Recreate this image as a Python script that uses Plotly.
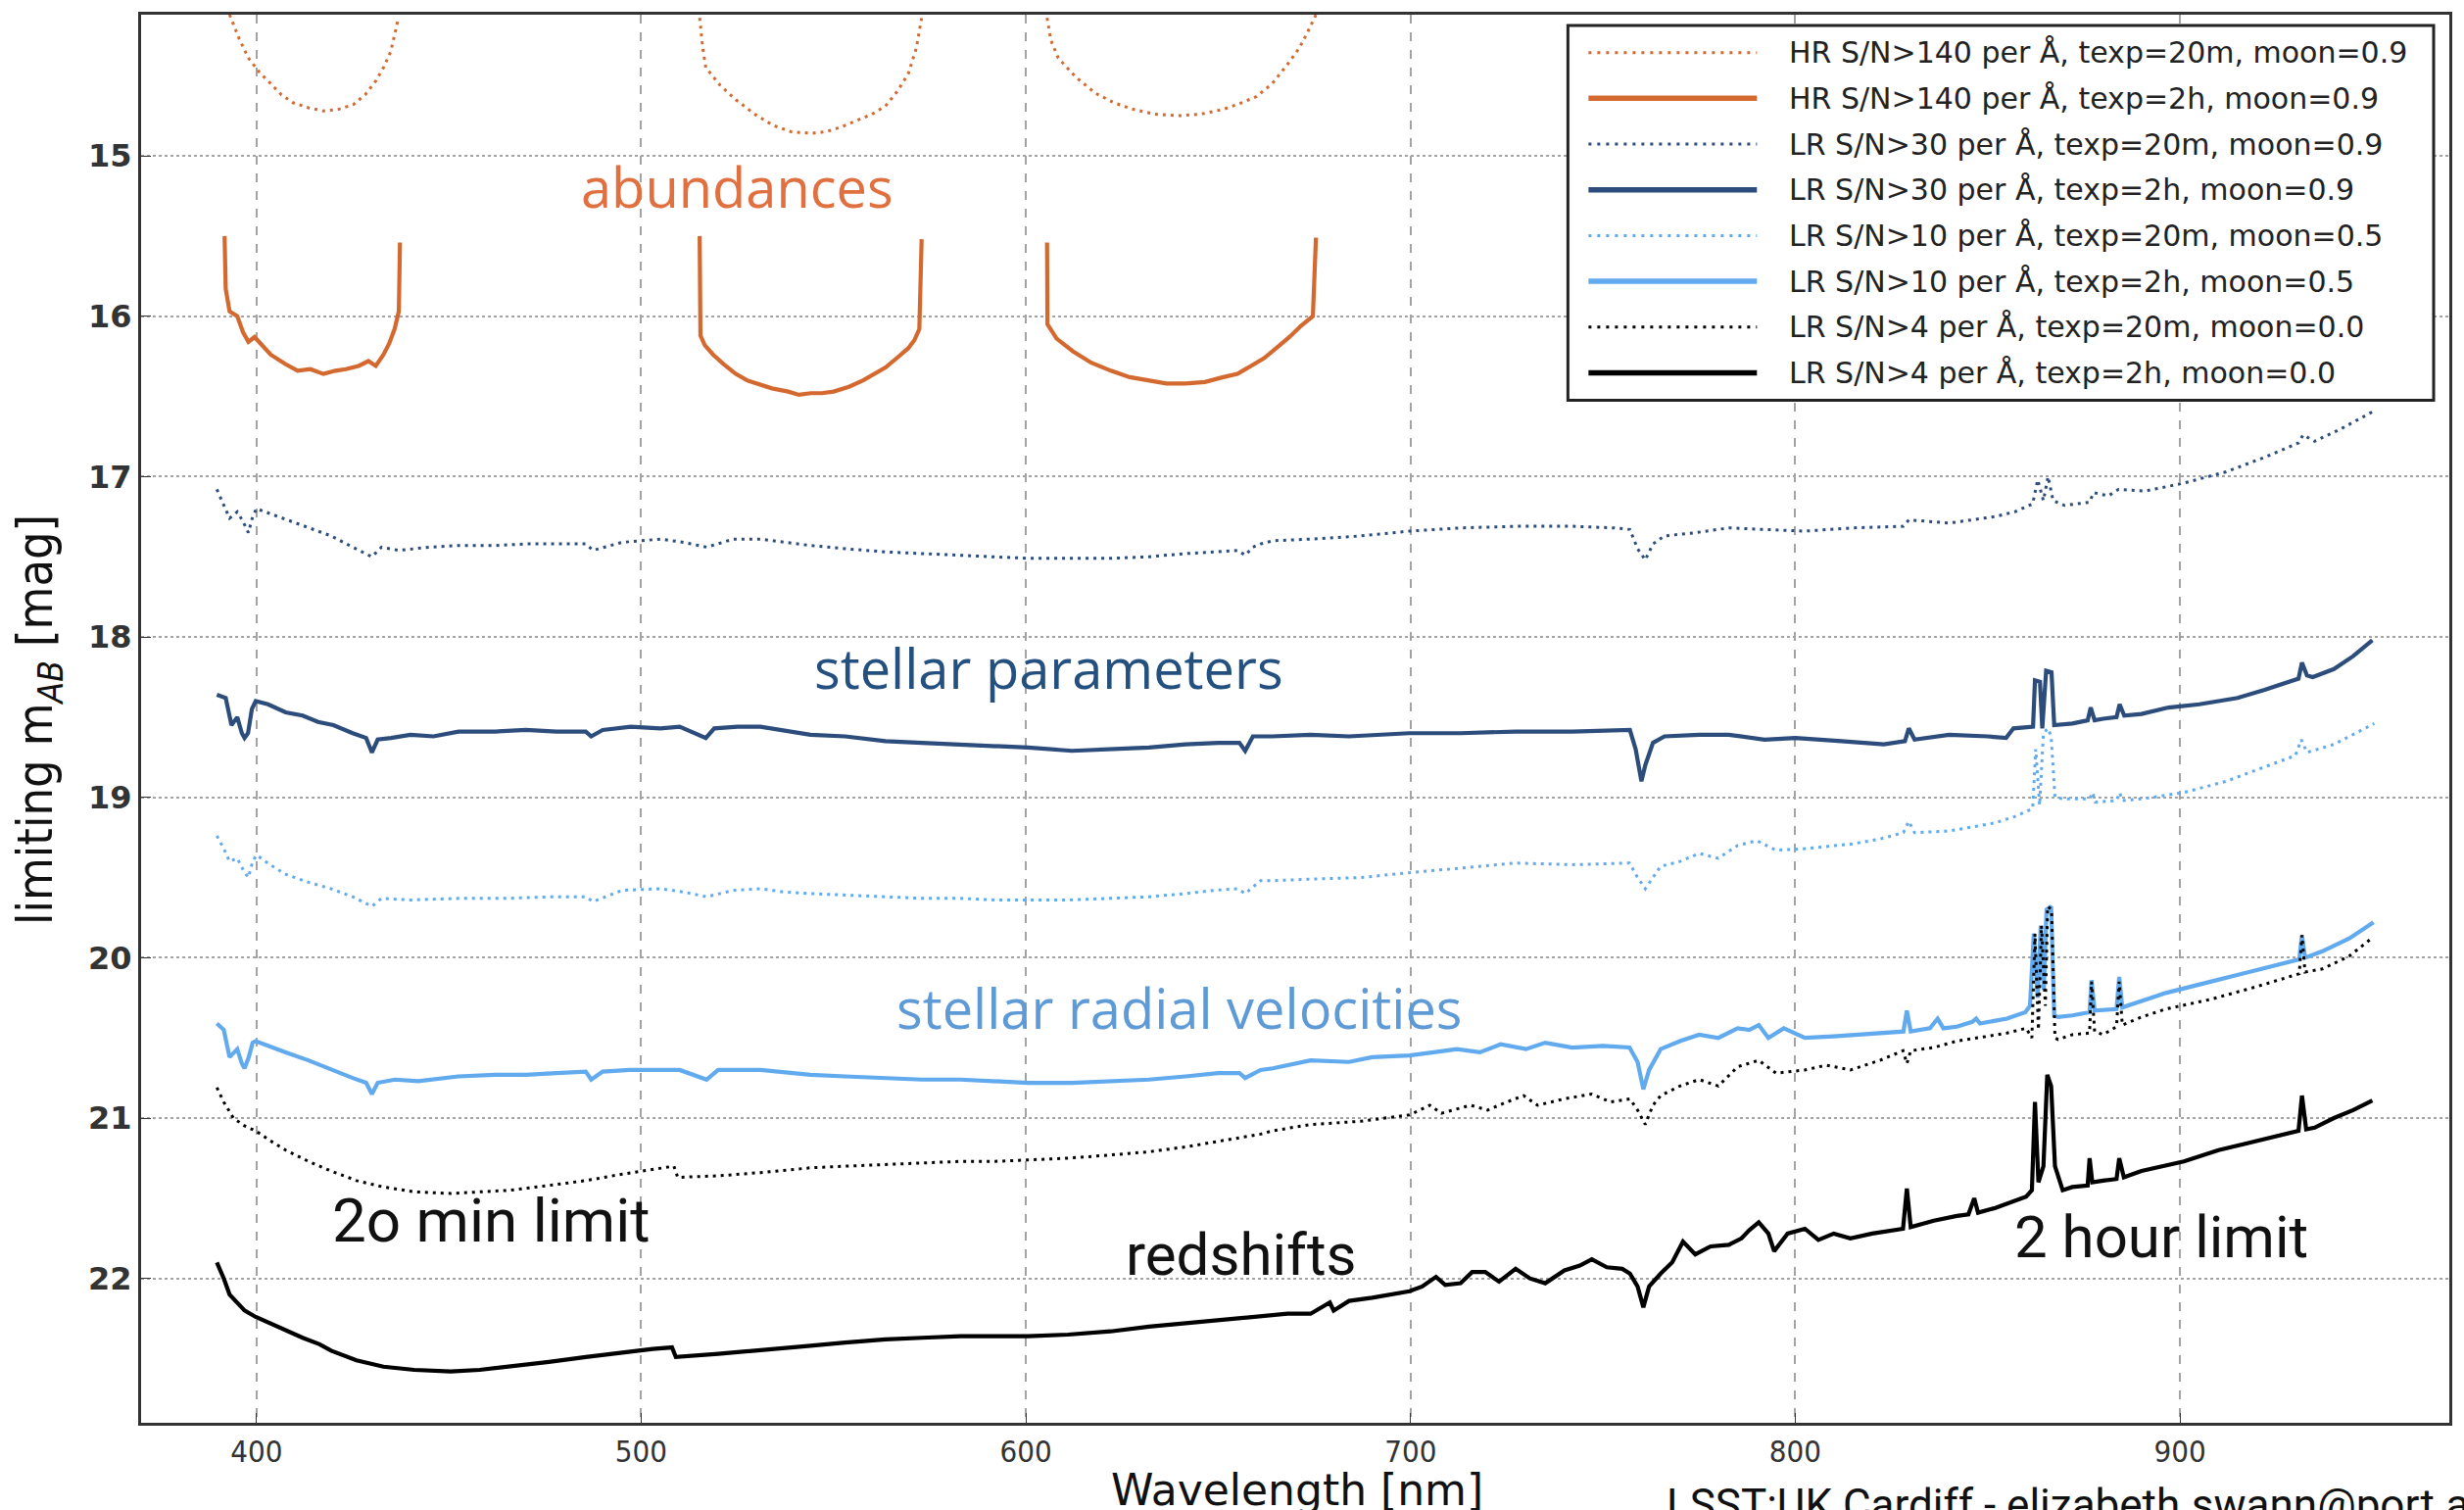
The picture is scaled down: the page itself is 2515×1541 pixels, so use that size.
import plotly.graph_objects as go

# ---------------- data (wavelength [nm], limiting magnitude) ----------------
hr_20m_wl = [393.0, 395.5, 397.9, 400.8, 403.7, 406.5, 409.6, 413.5, 417.4, 421.3, 425.2, 428.2, 431.1, 433.0, 434.9, 436.9,
             None,
             515.2, 516.0, 516.8, 520.5, 524.6, 529.5, 534.3, 539.0, 544.1, 548.0, 552.0, 556.0, 560.0, 563.5, 566.5, 569.4, 571.5, 572.9,
             None,
             605.5, 606.5, 608.4, 613.0, 618.1, 623.0, 627.9, 633.5, 639.6, 645.5, 651.3, 656.0, 660.0, 664.0, 668.0, 671.0, 673.0, 675.4]
hr_20m_mag = [14.12, 14.27, 14.39, 14.48, 14.55, 14.62, 14.67, 14.70, 14.72, 14.71, 14.68, 14.62, 14.53, 14.45, 14.35, 14.14,
              None,
              14.14, 14.33, 14.45, 14.56, 14.65, 14.74, 14.81, 14.85, 14.86, 14.85, 14.82, 14.78, 14.74, 14.69, 14.60, 14.49, 14.33, 14.14,
              None,
              14.14, 14.28, 14.39, 14.51, 14.61, 14.67, 14.71, 14.74, 14.75, 14.74, 14.71, 14.67, 14.63, 14.55, 14.43, 14.33, 14.24, 14.12]

hr_2h_wl = [391.7, 392.0, 393.0, 395.0, 396.5, 397.9, 399.5, 403.7, 407.6, 410.7, 414.0, 417.4, 420.5, 423.2, 426.5, 429.1, 431.0, 433.0, 434.5, 435.9, 437.0, 437.3,
            None,
            515.2, 515.4, 516.5, 518.7, 521.5, 524.6, 527.5, 530.4, 534.0, 538.2, 541.0, 544.1, 547.0, 550.0, 554.0, 557.7, 560.5, 563.5, 566.5, 569.4, 571.0, 572.3, 572.9,
            None,
            605.5, 605.6, 608.0, 612.3, 617.0, 622.1, 627.0, 631.8, 636.5, 641.5, 646.5, 651.3, 655.0, 658.5, 662.0, 665.5, 668.5, 671.5, 674.6, 675.4]
hr_2h_mag = [15.50, 15.83, 15.97, 16.00, 16.10, 16.16, 16.13, 16.24, 16.30, 16.34, 16.33, 16.36, 16.34, 16.33, 16.31, 16.28, 16.31, 16.24, 16.17, 16.08, 15.97, 15.54,
             None,
             15.50, 16.12, 16.18, 16.24, 16.30, 16.36, 16.40, 16.42, 16.45, 16.47, 16.49, 16.48, 16.48, 16.47, 16.44, 16.40, 16.36, 16.32, 16.26, 16.20, 16.15, 16.08, 15.52,
             None,
             15.54, 16.05, 16.14, 16.22, 16.29, 16.34, 16.38, 16.40, 16.42, 16.42, 16.41, 16.38, 16.36, 16.31, 16.26, 16.19, 16.13, 16.06, 16.00, 15.51]

lr30_20m_wl = [389.7, 391.5, 393.0, 395.0, 396.5, 397.9, 399.0, 400.0, 403.5, 407.6, 413.5, 419.4, 425.0, 430.0, 432.5, 437.0,
               445.0, 452.5, 462.0, 470.0, 478.0, 485.6, 487.5, 495.0, 505.0, 511.0, 517.0, 524.0, 531.0, 537.0, 544.0, 553.0,
               563.5, 573.0, 583.0, 592.0, 600.6, 611.0, 622.0, 632.0, 641.5, 649.0, 655.0, 657.0, 659.0, 661.0, 664.2, 674.0,
               687.0, 699.7, 713.0, 727.3, 742.0, 753.0, 757.0, 759.0, 761.0, 763.0, 766.0, 774.0, 782.7, 792.0, 802.5, 815.0,
               828.1, 829.5, 840.0, 851.8, 857.0, 861.7, 863.0, 864.5, 865.7, 867.0, 870.0, 876.5, 877.5, 881.4, 884.0, 891.0,
               901.1, 912.0, 922.0, 930.8, 932.0, 935.0, 942.0, 950.5]
lr30_20m_mag = [17.08, 17.18, 17.26, 17.22, 17.28, 17.35, 17.25, 17.20, 17.23, 17.27, 17.32, 17.37, 17.44, 17.50, 17.44, 17.46,
                17.44, 17.43, 17.43, 17.42, 17.42, 17.42, 17.46, 17.41, 17.39, 17.41, 17.44, 17.39, 17.39, 17.41, 17.43, 17.45,
                17.47, 17.48, 17.49, 17.50, 17.51, 17.51, 17.51, 17.50, 17.48, 17.47, 17.46, 17.49, 17.44, 17.42, 17.40, 17.39,
                17.37, 17.34, 17.32, 17.31, 17.31, 17.32, 17.33, 17.45, 17.52, 17.42, 17.37, 17.35, 17.32, 17.33, 17.34, 17.32,
                17.31, 17.27, 17.29, 17.25, 17.22, 17.17, 17.02, 17.15, 17.00, 17.15, 17.18, 17.16, 17.10, 17.12, 17.08, 17.09,
                17.04, 16.97, 16.88, 16.79, 16.74, 16.78, 16.70, 16.59]

lr30_2h_wl = [389.7, 392.0, 393.5, 395.0, 396.2, 396.9, 397.8, 398.8, 399.8, 403.0, 407.6, 412.0, 416.0, 420.0, 425.0, 428.5,
              430.0, 431.5, 435.0, 440.0, 446.0, 452.5, 462.0, 470.0, 478.0, 485.6, 487.0, 490.0, 497.3, 505.0, 510.0, 516.8,
              519.0, 525.0, 531.0, 544.0, 553.0, 563.5, 573.0, 583.0, 592.0, 600.6, 612.0, 622.0, 632.0, 641.5, 650.0, 655.5,
              657.0, 659.0, 664.0, 674.0, 684.0, 699.7, 713.0, 727.3, 742.0, 757.0, 758.5, 760.0, 761.0, 763.0, 766.0, 775.0,
              782.7, 792.0, 800.0, 812.0, 823.0, 828.5, 829.5, 831.0, 840.0, 850.0, 854.8, 856.7, 861.8, 862.3, 863.6, 864.2,
              865.2, 866.6, 867.3, 872.0, 876.0, 876.8, 877.8, 880.0, 883.5, 884.3, 885.5, 890.0, 897.0, 905.0, 915.0, 922.0,
              928.0, 930.8, 931.7, 933.0, 934.5, 940.0, 945.0, 950.0]
lr30_2h_mag = [18.36, 18.38, 18.55, 18.50, 18.60, 18.63, 18.60, 18.45, 18.40, 18.42, 18.47, 18.49, 18.53, 18.55, 18.60, 18.63,
               18.72, 18.64, 18.63, 18.61, 18.62, 18.59, 18.59, 18.58, 18.59, 18.59, 18.62, 18.58, 18.56, 18.57, 18.56, 18.63,
               18.57, 18.56, 18.56, 18.61, 18.62, 18.65, 18.66, 18.67, 18.68, 18.69, 18.71, 18.70, 18.69, 18.67, 18.66, 18.66,
               18.71, 18.62, 18.62, 18.61, 18.62, 18.60, 18.60, 18.59, 18.59, 18.58, 18.70, 18.90, 18.80, 18.66, 18.62, 18.61,
               18.61, 18.64, 18.63, 18.65, 18.67, 18.65, 18.57, 18.64, 18.61, 18.62, 18.63, 18.57, 18.56, 18.27, 18.28, 18.57,
               18.21, 18.22, 18.55, 18.54, 18.52, 18.44, 18.52, 18.51, 18.50, 18.42, 18.49, 18.48, 18.44, 18.42, 18.38, 18.33,
               18.28, 18.26, 18.16, 18.24, 18.25, 18.20, 18.12, 18.02]

lr10_20m_wl = [389.7, 391.5, 393.0, 395.0, 396.5, 397.9, 399.0, 400.0, 403.5, 407.6, 413.5, 419.4, 425.0, 430.0, 432.5, 440.0,
               452.5, 465.0, 477.0, 485.6, 487.5, 495.0, 505.0, 511.0, 517.0, 524.0, 531.0, 537.0, 544.0, 553.0, 563.5, 573.0,
               583.0, 592.0, 600.6, 611.0, 622.0, 632.0, 641.5, 649.0, 655.0, 657.0, 661.0, 664.2, 674.0, 687.0, 699.7, 713.0,
               727.3, 742.0, 756.9, 759.0, 761.0, 763.0, 765.0, 770.0, 775.0, 780.0, 785.0, 790.0, 795.0, 802.5, 810.0, 815.0,
               822.0, 828.1, 829.5, 831.0, 840.0, 851.8, 857.0, 861.7, 862.5, 863.5, 864.5, 865.7, 866.5, 867.5, 870.0, 876.5,
               877.3, 878.0, 883.5, 884.3, 885.0, 890.0, 901.0, 912.0, 922.0, 930.0, 931.5, 933.0, 940.0, 945.0, 950.5]
lr10_20m_mag = [19.24, 19.32, 19.40, 19.38, 19.45, 19.50, 19.40, 19.36, 19.42, 19.48, 19.53, 19.57, 19.62, 19.68, 19.63, 19.64,
                19.63, 19.63, 19.62, 19.62, 19.65, 19.58, 19.57, 19.59, 19.62, 19.58, 19.57, 19.59, 19.60, 19.61, 19.62, 19.63,
                19.63, 19.64, 19.64, 19.64, 19.63, 19.62, 19.60, 19.58, 19.57, 19.60, 19.52, 19.52, 19.51, 19.50, 19.47, 19.44,
                19.41, 19.42, 19.41, 19.50, 19.57, 19.50, 19.43, 19.40, 19.35, 19.38, 19.30, 19.27, 19.33, 19.32, 19.30, 19.29,
                19.26, 19.22, 19.15, 19.22, 19.21, 19.16, 19.12, 19.07, 18.70, 19.05, 18.60, 18.57, 18.62, 19.00, 19.01, 19.01,
                18.97, 19.03, 19.02, 18.97, 19.02, 19.01, 18.97, 18.90, 18.81, 18.74, 18.64, 18.72, 18.67, 18.61, 18.54]

lr10_2h_wl = [389.7, 391.5, 393.0, 395.0, 396.2, 396.9, 398.0, 399.0, 399.8, 403.0, 407.6, 413.5, 419.4, 425.0, 428.5, 430.0,
              431.5, 436.0, 442.0, 452.5, 462.0, 470.0, 478.0, 485.6, 487.0, 490.0, 497.0, 505.0, 510.0, 517.0, 520.0, 531.0,
              544.0, 553.0, 563.5, 573.0, 583.0, 592.0, 600.6, 612.0, 622.0, 632.0, 641.5, 650.0, 655.5, 657.0, 661.0, 664.2,
              674.0, 684.0, 690.0, 699.7, 706.0, 712.0, 718.0, 723.4, 730.0, 735.0, 742.0, 750.0, 756.9, 759.0, 760.5, 762.0,
              765.0, 770.0, 775.0, 780.0, 785.0, 788.0, 790.5, 793.0, 797.0, 802.5, 810.0, 820.0, 828.1, 829.0, 830.0, 835.0,
              837.0, 838.5, 842.0, 846.0, 847.0, 848.0, 855.0, 859.8, 861.0, 862.0, 863.0, 863.8, 864.6, 865.3, 866.5, 867.3,
              868.3, 872.0, 876.5, 877.0, 877.8, 883.5, 884.2, 885.0, 890.0, 896.3, 907.9, 920.0, 931.0, 931.7, 932.5, 937.0,
              944.0, 950.3]
lr10_2h_mag = [20.41, 20.45, 20.62, 20.57, 20.66, 20.69, 20.62, 20.53, 20.52, 20.55, 20.59, 20.64, 20.70, 20.75, 20.78, 20.85,
               20.78, 20.76, 20.77, 20.74, 20.73, 20.73, 20.72, 20.71, 20.76, 20.71, 20.70, 20.70, 20.70, 20.76, 20.70, 20.70,
               20.73, 20.74, 20.75, 20.76, 20.76, 20.77, 20.78, 20.78, 20.77, 20.76, 20.74, 20.72, 20.72, 20.75, 20.70, 20.69,
               20.64, 20.65, 20.62, 20.61, 20.59, 20.57, 20.59, 20.54, 20.57, 20.53, 20.56, 20.55, 20.56, 20.65, 20.82, 20.70,
               20.57, 20.52, 20.48, 20.50, 20.44, 20.45, 20.42, 20.50, 20.44, 20.50, 20.49, 20.47, 20.46, 20.33, 20.46, 20.44,
               20.38, 20.44, 20.43, 20.40, 20.38, 20.41, 20.38, 20.34, 20.30, 19.85, 20.25, 19.80, 20.20, 19.70, 19.68, 20.36,
               20.37, 20.36, 20.34, 20.14, 20.33, 20.32, 20.12, 20.31, 20.27, 20.22, 20.15, 20.08, 20.01, 19.86, 20.00, 19.96,
               19.88, 19.78]

lr4_20m_wl = [389.7, 391.5, 394.0, 397.0, 399.8, 403.5, 407.6, 413.5, 419.4, 426.0, 433.0, 441.0, 450.5, 458.0, 466.0, 476.0,
              485.6, 495.0, 505.0, 508.5, 509.5, 520.0, 531.0, 544.0, 553.0, 563.5, 573.0, 583.0, 592.0, 600.6, 611.0, 622.0,
              632.0, 641.5, 651.0, 661.0, 664.0, 674.0, 687.0, 699.7, 705.0, 708.0, 715.6, 720.0, 725.0, 729.4, 733.0, 740.0,
              747.0, 752.0, 757.0, 759.0, 761.0, 763.0, 765.0, 770.0, 775.0, 780.0, 785.0, 790.5, 795.0, 802.5, 808.0, 814.3,
              822.0, 828.0, 829.0, 830.0, 836.0, 842.0, 850.0, 855.0, 860.0, 861.5, 862.3, 863.2, 864.0, 865.0, 865.6, 866.6,
              867.5, 868.3, 872.0, 876.5, 877.0, 877.8, 880.0, 883.5, 884.2, 885.0, 890.0, 896.3, 907.9, 920.0, 931.0, 931.7,
              932.5, 937.0, 944.0, 950.3]
lr4_20m_mag = [20.81, 20.90, 21.00, 21.05, 21.08, 21.14, 21.20, 21.27, 21.33, 21.39, 21.43, 21.46, 21.47, 21.46, 21.45, 21.42,
               21.39, 21.35, 21.31, 21.30, 21.37, 21.36, 21.34, 21.31, 21.30, 21.29, 21.28, 21.27, 21.27, 21.26, 21.25, 21.23,
               21.21, 21.18, 21.14, 21.10, 21.08, 21.04, 21.02, 20.98, 20.92, 20.97, 20.92, 20.95, 20.90, 20.86, 20.92, 20.88,
               20.85, 20.90, 20.88, 20.95, 21.04, 20.92, 20.86, 20.80, 20.76, 20.80, 20.68, 20.64, 20.72, 20.70, 20.67, 20.70,
               20.64, 20.58, 20.66, 20.58, 20.56, 20.52, 20.49, 20.47, 20.44, 20.50, 19.85, 20.45, 19.80, 20.30, 19.68, 19.70,
               20.50, 20.51, 20.48, 20.47, 20.15, 20.46, 20.48, 20.43, 20.15, 20.42, 20.37, 20.32, 20.26, 20.18, 20.10, 19.86,
               20.09, 20.07, 19.99, 19.87]

lr4_2h_wl = [389.7, 391.5, 393.0, 396.9, 399.8, 403.5, 407.6, 412.0, 416.4, 419.4, 426.0, 433.0, 441.0, 450.5, 458.0, 466.0,
             476.0, 485.6, 495.0, 503.0, 508.0, 509.0, 520.0, 531.0, 544.0, 553.0, 563.5, 573.0, 583.0, 592.0, 600.6, 611.0,
             622.0, 632.0, 641.5, 651.0, 661.0, 668.0, 674.0, 679.0, 680.0, 684.0, 690.0, 695.0, 699.7, 703.0, 706.6, 709.0,
             713.0, 716.0, 719.4, 723.0, 727.3, 731.0, 735.0, 740.0, 744.0, 747.1, 751.0, 755.0, 757.0, 759.0, 760.5, 762.0,
             765.0, 768.0, 770.8, 774.0, 778.0, 782.7, 786.0, 788.0, 790.5, 793.0, 794.5, 798.0, 802.5, 806.0, 810.0, 814.3,
             820.0, 828.0, 829.0, 830.0, 836.0, 842.0, 845.0, 846.5, 847.5, 852.0, 860.0, 861.5, 862.3, 863.2, 864.5, 865.5,
             866.5, 867.5, 869.5, 872.0, 876.0, 876.5, 877.2, 880.0, 883.5, 884.2, 885.4, 890.0, 895.0, 901.0, 910.0, 920.0,
             930.8, 931.7, 932.8, 935.0, 940.0, 945.0, 950.0]
lr4_2h_mag = [21.90, 22.00, 22.10, 22.20, 22.24, 22.28, 22.32, 22.37, 22.41, 22.45, 22.51, 22.55, 22.57, 22.58, 22.57, 22.55,
              22.52, 22.49, 22.46, 22.44, 22.43, 22.49, 22.47, 22.45, 22.42, 22.40, 22.38, 22.37, 22.36, 22.36, 22.36, 22.35,
              22.33, 22.30, 22.28, 22.26, 22.24, 22.22, 22.22, 22.15, 22.20, 22.14, 22.12, 22.10, 22.08, 22.05, 21.99, 22.04,
              22.03, 21.96, 21.96, 22.02, 21.94, 22.00, 22.03, 21.95, 21.92, 21.88, 21.93, 21.94, 21.97, 22.05, 22.18, 22.05,
              21.97, 21.90, 21.77, 21.85, 21.80, 21.79, 21.75, 21.70, 21.65, 21.72, 21.83, 21.72, 21.69, 21.76, 21.72, 21.75,
              21.72, 21.69, 21.44, 21.68, 21.64, 21.61, 21.60, 21.50, 21.59, 21.56, 21.49, 21.45, 20.90, 21.40, 21.30, 20.73,
              20.80, 21.30, 21.45, 21.43, 21.42, 21.25, 21.40, 21.39, 21.38, 21.25, 21.37, 21.33, 21.30, 21.27, 21.20, 21.14,
              21.08, 20.86, 21.07, 21.06, 21.00, 20.95, 20.89]

x_ticks = [400, 500, 600, 700, 800, 900]
y_ticks = [15, 16, 17, 18, 19, 20, 21, 22]

legend_labels = [
    "HR S/N>140 per Å, texp=20m, moon=0.9",
    "HR S/N>140 per Å, texp=2h, moon=0.9",
    "LR S/N>30 per Å, texp=20m, moon=0.9",
    "LR S/N>30 per Å, texp=2h, moon=0.9",
    "LR S/N>10 per Å, texp=20m, moon=0.5",
    "LR S/N>10 per Å, texp=2h, moon=0.5",
    "LR S/N>4 per Å, texp=20m, moon=0.0",
    "LR S/N>4 per Å, texp=2h, moon=0.0",
]

ORANGE = "#D4692F"
DARKBLUE = "#2C4D7C"
LIGHTBLUE = "#62AAEE"
BLACK = "#000000"
DOT = "3px,5px"

series = [
    (hr_20m_wl, hr_20m_mag, ORANGE, True),
    (hr_2h_wl, hr_2h_mag, ORANGE, False),
    (lr30_20m_wl, lr30_20m_mag, DARKBLUE, True),
    (lr30_2h_wl, lr30_2h_mag, DARKBLUE, False),
    (lr10_20m_wl, lr10_20m_mag, LIGHTBLUE, True),
    (lr10_2h_wl, lr10_2h_mag, LIGHTBLUE, False),
    (lr4_20m_wl, lr4_20m_mag, BLACK, True),
    (lr4_2h_wl, lr4_2h_mag, BLACK, False),
]

for wl, mg, _, _ in series:
    assert len(wl) == len(mg), (len(wl), len(mg))

fig = go.Figure()
for (wl, mg, col, dotted), lab in zip(series, legend_labels):
    fig.add_trace(go.Scatter(
        x=wl, y=mg, mode="lines", name=lab, connectgaps=False, showlegend=False,
        line=dict(color=col, width=3 if dotted else 4.2, dash=DOT if dotted else "solid"),
    ))

W, H = 2515, 1541
L, R, T, B = 144, 14, 13, 89
PW, PH = W - L - R, H - T - B


def px(xp):
    return (xp - L) / PW


def py(yp):
    return (H - B - yp) / PH


shapes = []
annotations = []

# manual legend box
shapes.append(dict(type="rect", xref="paper", yref="paper",
                   x0=px(1601), x1=px(2485), y0=py(24), y1=py(407),
                   line=dict(color="#222222", width=3), fillcolor="white", layer="above"))
for i, ((_, _, col, dotted), lab) in enumerate(zip(series, legend_labels)):
    yc = 51.7 + 46.75 * i
    shapes.append(dict(type="line", xref="paper", yref="paper",
                       x0=px(1622), x1=px(1794), y0=py(yc), y1=py(yc), layer="above",
                       line=dict(color=col, width=3 if dotted else 5.5, dash="3px,6px" if dotted else "solid")))
    annotations.append(dict(xref="paper", yref="paper", x=px(1825), y=py(yc), xanchor="left", yanchor="middle",
                            text=lab, showarrow=False,
                            font=dict(family="DejaVu Sans", size=30, color="#222222")))

# text labels in the plot
label_font = "Open Sans"
hand_font = "Roboto"
annotations += [
    dict(x=525, y=15.19, text="abundances", font=dict(family=label_font, size=56, color="#E0703F")),
    dict(x=606, y=18.19, text="stellar parameters", font=dict(family=label_font, size=56, color="#24507F")),
    dict(x=640, y=20.31, text="stellar radial velocities", font=dict(family=label_font, size=56, color="#5E9AD6")),
    dict(x=461, y=21.64, text="2o min limit", font=dict(family=hand_font, size=62, color="#111111")),
    dict(x=656, y=21.85, text="redshifts", font=dict(family=hand_font, size=60, color="#111111")),
    dict(x=895, y=21.74, text="2 hour limit", font=dict(family=hand_font, size=60, color="#111111")),
]
for a in annotations[-6:]:
    a.update(xref="x", yref="y", showarrow=False, xanchor="center", yanchor="middle")

# axis titles
annotations.append(dict(xref="paper", yref="paper", x=px(1325), y=py(1521), xanchor="center", yanchor="middle",
                        text="Wavelength [nm]", showarrow=False, borderpad=0,
                        font=dict(family="DejaVu Sans", size=44, color="#111111")))
annotations.append(dict(xref="paper", yref="paper", x=px(40), y=py(734), xanchor="center", yanchor="middle",
                        text="limiting m<sub><i>AB</i></sub> [mag]", textangle=-90, showarrow=False,
                        font=dict(family="DejaVu Sans Condensed, DejaVu Sans", size=50, color="#111111")))
# footer (clipped at the bottom edge, as in the original)
annotations.append(dict(xref="paper", yref="paper", x=px(1700), y=py(1508), xanchor="left", yanchor="top",
                        text="LSST:UK Cardiff - elizabeth.swann@port.ac.uk", showarrow=False,
                        font=dict(family=hand_font, size=44, color="#111111")))

fig.update_layout(
    width=W, height=H,
    margin=dict(l=L, r=R, t=T, b=B, pad=0),
    paper_bgcolor="white", plot_bgcolor="white",
    shapes=shapes, annotations=annotations, showlegend=False,
    xaxis=dict(range=[370, 970], tickvals=x_ticks, ticktext=[str(v) for v in x_ticks],
               showgrid=True, gridcolor="#a3a3a3", gridwidth=1.5, griddash="dash",
               showline=True, linecolor="#333333", linewidth=3, mirror=True,
               ticks="inside", ticklen=10, tickcolor="#333333", zeroline=False,
               tickfont=dict(family="DejaVu Sans Condensed, DejaVu Sans", size=31, color="#333333")),
    yaxis=dict(range=[22.9, 14.12], tickvals=y_ticks, ticktext=[str(v) for v in y_ticks],
               showgrid=True, gridcolor="#a3a3a3", gridwidth=2, griddash="dot",
               showline=True, linecolor="#333333", linewidth=3, mirror=True,
               ticks="inside", ticklen=10, tickcolor="#333333", zeroline=False,
               tickfont=dict(family="DejaVu Sans", size=32, color="#333333", weight="bold")),
)

fig.write_html("out.html",
               config={"displayModeBar": False},
               post_script="document.body.style.margin='0px';document.body.style.padding='0px';"
                           "document.body.style.overflow='hidden';")
